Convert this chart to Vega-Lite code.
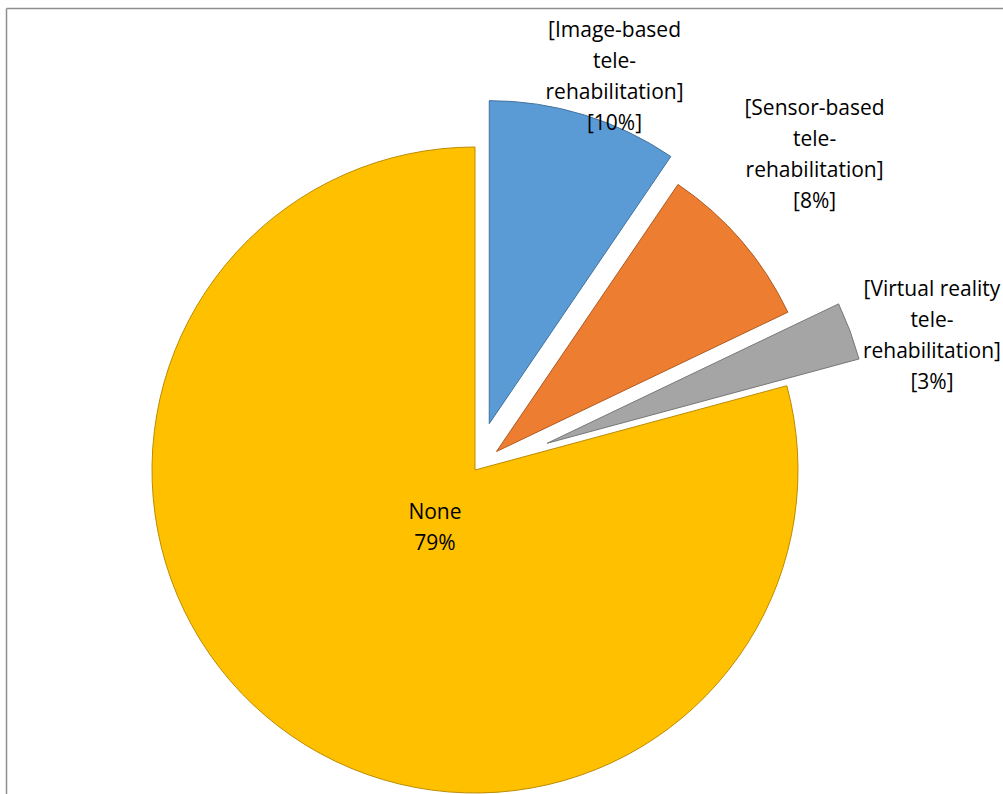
{
  "$schema": "https://vega.github.io/schema/vega-lite/v6.json",
  "width": 938,
  "height": 924,
  "autosize": {"type": "none"},
  "padding": {"left": 6, "top": 8, "right": 59, "bottom": 0},
  "background": "white",
  "config": {
    "view": {"stroke": null},
    "axis": {"domainColor": "#8f8f8f", "domainWidth": 1.5, "ticks": false, "labels": false, "grid": false, "title": null}
  },
  "params": [
    {"name": "explode", "value": {"Image-based tele-rehabilitation": 48.5, "Sensor-based tele-rehabilitation": 28.3, "Virtual reality tele-rehabilitation": 77, "None": 0}},
    {"name": "labR", "value": {"Image-based tele-rehabilitation": 461.6, "Sensor-based tele-rehabilitation": 497, "Virtual reality tele-rehabilitation": 491.5, "None": 57.3}},
    {"name": "labA", "value": {"Image-based tele-rehabilitation": 0.0086, "Sensor-based tele-rehabilitation": -0.1086, "Virtual reality tele-rehabilitation": -0.0222, "None": 0.1197}}
  ],
  "data": {
    "values": [
      {"category": "Image-based tele-rehabilitation", "value": 9.5, "label": "[Image-based\ntele-\nrehabilitation]\n[10%]"},
      {"category": "Sensor-based tele-rehabilitation", "value": 8.4, "label": "[Sensor-based\ntele-\nrehabilitation]\n[8%]"},
      {"category": "Virtual reality tele-rehabilitation", "value": 2.9, "label": "[Virtual reality\ntele-\nrehabilitation]\n[3%]"},
      {"category": "None", "value": 79.2, "label": "None\n79%"}
    ]
  },
  "transform": [{"stack": "value", "groupby": [], "as": ["v0", "v1"]}],
  "layer": [
    {
      "mark": {"type": "point", "opacity": 0},
      "encoding": {
        "x": {"field": "v0", "type": "quantitative", "scale": {"domain": [0, 100], "range": [0, 1000]}, "axis": {"orient": "top"}},
        "y": {"field": "v1", "type": "quantitative", "scale": {"domain": [0, 100]}, "axis": {"orient": "left"}}
      }
    },
    {
      "mark": {
        "type": "arc",
        "outerRadius": 323,
        "strokeWidth": 1,
        "xOffset": {"expr": "explode[datum.category]*sin(PI*(datum.v0+datum.v1)/100)"},
        "yOffset": {"expr": "-explode[datum.category]*cos(PI*(datum.v0+datum.v1)/100)"}
      },
      "encoding": {
        "theta": {"field": "v0", "type": "quantitative", "scale": {"domain": [0, 100]}},
        "theta2": {"field": "v1"},
        "color": {
          "field": "category", "type": "nominal",
          "scale": {"domain": ["Image-based tele-rehabilitation", "Sensor-based tele-rehabilitation", "Virtual reality tele-rehabilitation", "None"], "range": ["#5B9BD5", "#ED7D31", "#A5A5A5", "#FFC000"]},
          "legend": null
        },
        "stroke": {
          "field": "category", "type": "nominal",
          "scale": {"domain": ["Image-based tele-rehabilitation", "Sensor-based tele-rehabilitation", "Virtual reality tele-rehabilitation", "None"], "range": ["#41719C", "#AE5A21", "#787878", "#BC8C00"]},
          "legend": null
        }
      }
    },
    {
      "mark": {
        "type": "text",
        "font": "Open Sans",
        "fontSize": 21,
        "lineHeight": 31,
        "lineBreak": "\n",
        "align": "center",
        "baseline": "middle",
        "dy": 1.5,
        "color": "#000000",
        "radius": {"expr": "labR[datum.category]"},
        "thetaOffset": {"expr": "PI*datum.value/100 + labA[datum.category]"}
      },
      "encoding": {
        "theta": {"field": "v0", "type": "quantitative"},
        "text": {"field": "label"}
      }
    }
  ]
}
